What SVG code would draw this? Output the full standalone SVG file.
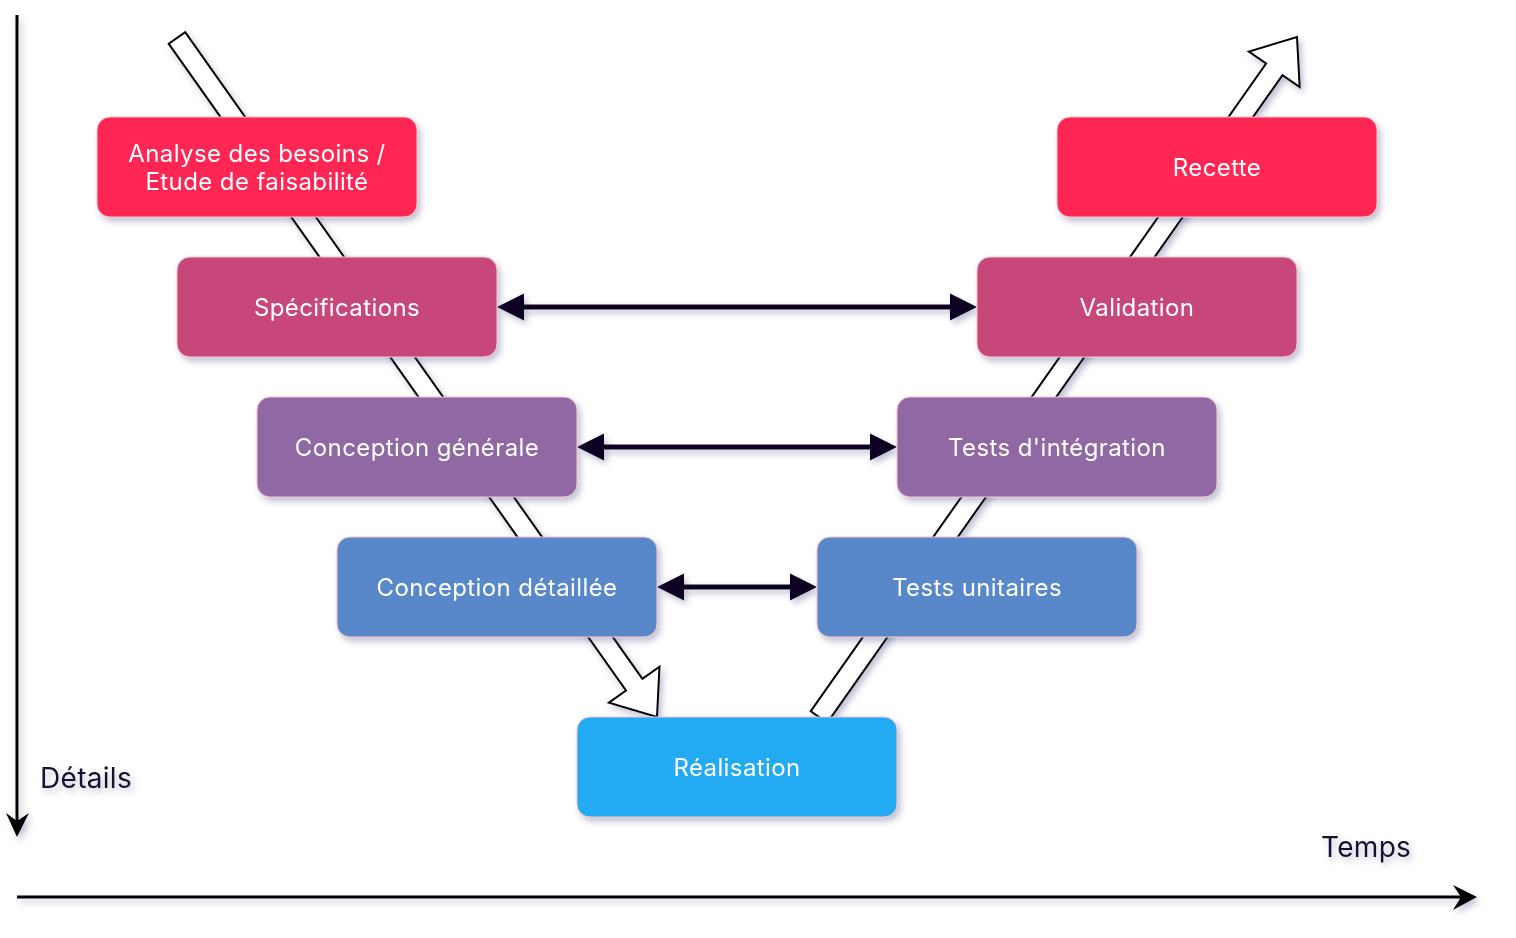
<svg xmlns="http://www.w3.org/2000/svg" width="1516" height="938" viewBox="0 0 1516 938">
<defs>
<filter id="sh" x="-20%" y="-20%" width="140%" height="140%">
<feDropShadow dx="3" dy="4" stdDeviation="3" flood-color="#4a5080" flood-opacity="0.35"/>
</filter>
<style>
.node rect{stroke:#f4c6cc;stroke-width:1}
.lbl{font-family:Inter,"Liberation Sans",sans-serif;font-size:24px;letter-spacing:0.4px;fill:#ffffff;text-anchor:middle}
.axt{font-family:Inter,"Liberation Sans",sans-serif;font-size:28px;letter-spacing:0.3px;fill:#1a1030}
.flow{fill:#ffffff;stroke:#000000;stroke-width:2;stroke-linejoin:miter}
.bi{stroke:#0d0221;stroke-width:5;fill:none}
.head{fill:#0d0221}
.c1{fill:#ff2553}.c2{fill:#c7477a}.c3{fill:#9068a3}.c4{fill:#5888c9}.c5{fill:#22aaf2}
</style>
</defs>
<g id="connectors" filter="url(#sh)">
<polygon class="flow" points="168.8,43.8 626,690.5 608.9,702.6 657,717 659.5,666.8 642.4,678.9 185.2,32.2"/>
<polygon class="flow" points="810.8,711.2 1266.1,63.5 1248.9,51.5 1297,37 1299.7,87.1 1282.5,75.1 827.2,722.8"/>
<g id="bi1">
<line class="bi" x1="520" y1="307" x2="954" y2="307"/>
<polygon class="head" points="497,307 524,293.5 524,320.5"/>
<polygon class="head" points="977,307 950,293.5 950,320.5"/>
</g>
<g id="bi2">
<line class="bi" x1="600" y1="447" x2="874" y2="447"/>
<polygon class="head" points="577,447 604,433.5 604,460.5"/>
<polygon class="head" points="897,447 870,433.5 870,460.5"/>
</g>
<g id="bi3">
<line class="bi" x1="680" y1="587" x2="794" y2="587"/>
<polygon class="head" points="657,587 684,573.5 684,600.5"/>
<polygon class="head" points="817,587 790,573.5 790,600.5"/>
</g>
<g id="axis-y">
<line x1="17" y1="15" x2="17" y2="824" stroke="#000" stroke-width="3"/>
<polygon points="17,837 6,813 17,821 29,813" fill="#000"/>
</g>
<g id="axis-x">
<line x1="17" y1="897" x2="1464" y2="897" stroke="#000" stroke-width="3"/>
<polygon points="1477,897 1453,885 1461,897 1453,910" fill="#000"/>
</g>
</g>
<g id="n-analyse" class="node" filter="url(#sh)">
<rect class="c1" x="97" y="117" width="320" height="100" rx="13"/>
<text class="lbl" x="257" y="162">Analyse des besoins /</text>
<text class="lbl" x="257" y="190">Etude de faisabilité</text>
</g>
<g id="n-specifications" class="node" filter="url(#sh)">
<rect class="c2" x="177" y="257" width="320" height="100" rx="13"/>
<text class="lbl" x="337" y="315.5">Spécifications</text>
</g>
<g id="n-conception-generale" class="node" filter="url(#sh)">
<rect class="c3" x="257" y="397" width="320" height="100" rx="13"/>
<text class="lbl" x="417" y="455.5">Conception générale</text>
</g>
<g id="n-conception-detaillee" class="node" filter="url(#sh)">
<rect class="c4" x="337" y="537" width="320" height="100" rx="13"/>
<text class="lbl" x="497" y="595.5">Conception détaillée</text>
</g>
<g id="n-realisation" class="node" filter="url(#sh)">
<rect class="c5" x="577" y="717" width="320" height="100" rx="13"/>
<text class="lbl" x="737" y="775.5">Réalisation</text>
</g>
<g id="n-tests-unitaires" class="node" filter="url(#sh)">
<rect class="c4" x="817" y="537" width="320" height="100" rx="13"/>
<text class="lbl" x="977" y="595.5">Tests unitaires</text>
</g>
<g id="n-tests-integration" class="node" filter="url(#sh)">
<rect class="c3" x="897" y="397" width="320" height="100" rx="13"/>
<text class="lbl" x="1057" y="455.5">Tests d'intégration</text>
</g>
<g id="n-validation" class="node" filter="url(#sh)">
<rect class="c2" x="977" y="257" width="320" height="100" rx="13"/>
<text class="lbl" x="1137" y="315.5">Validation</text>
</g>
<g id="n-recette" class="node" filter="url(#sh)">
<rect class="c1" x="1057" y="117" width="320" height="100" rx="13"/>
<text class="lbl" x="1217" y="175.5">Recette</text>
</g>
<g id="t-details" filter="url(#sh)">
<text class="axt" x="40" y="788">Détails</text>
</g>
<g id="t-temps" filter="url(#sh)">
<text class="axt" x="1321" y="857">Temps</text>
</g>
</svg>
